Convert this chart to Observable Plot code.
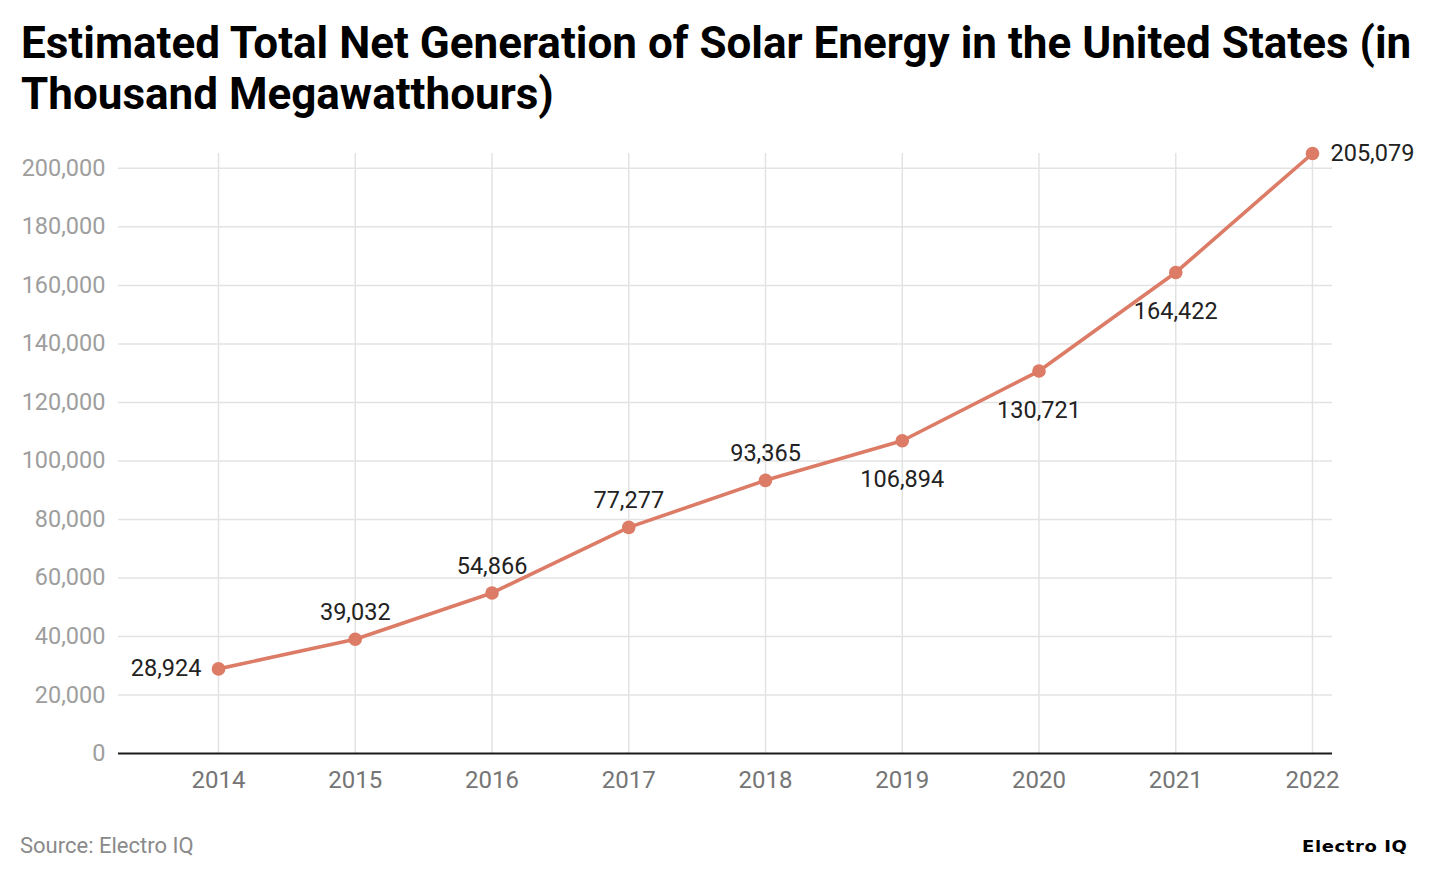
<!DOCTYPE html>
<html>
<head>
<meta charset="utf-8">
<script src="https://cdn.jsdelivr.net/npm/d3@7"></script>
<script src="https://cdn.jsdelivr.net/npm/@observablehq/plot@0.6"></script>
<style>
  html, body { margin: 0; padding: 0; background: #fff; }
  body { position: relative; width: 1436px; height: 880px; overflow: hidden; font-family: Roboto, sans-serif; }
  #title { position: absolute; left: 21px; top: 18px; width: 1410px; font-size: 44px; font-weight: 700; line-height: 51px; color: #000; }
  #chart { position: absolute; left: 0; top: 130px; }
  #source { position: absolute; left: 20px; top: 833px; font-size: 22px; color: #8a8a8a; }
  #logo { position: absolute; left: 1302px; top: 838px; font-family: "DejaVu Sans", sans-serif; font-weight: 700; font-size: 15px; color: #000; letter-spacing: 0.5px; transform: scaleX(1.2); transform-origin: left center; }
</style>
</head>
<body>
<div id="title">Estimated Total Net Generation of Solar Energy in the United States (in Thousand Megawatthours)</div>
<div id="chart"></div>
<div id="source">Source: Electro IQ</div>
<div id="logo">Electro IQ</div>
<script>
const years = [2014, 2015, 2016, 2017, 2018, 2019, 2020, 2021, 2022];
const values = [28924, 39032, 54866, 77277, 93365, 106894, 130721, 164422, 205079];
const yTicks = [0, 20000, 40000, 60000, 80000, 100000, 120000, 140000, 160000, 180000, 200000];

const data = years.map((y, i) => ({year: y, value: values[i], i}));
const fmt = d3.format(",");
const color = "#dc7b66";

const left = data.filter(d => d.i === 0);
const right = data.filter(d => d.i === data.length - 1);
const above = data.filter(d => d.i >= 1 && d.i <= 4);
const below = data.filter(d => d.i >= 5 && d.i <= 7);

const labelStyle = {x: "year", y: "value", text: d => fmt(d.value), fontSize: 23.5, fill: "#222", fontFamily: "Roboto"};

const plot = Plot.plot({
  width: 1436,
  height: 670,
  marginLeft: 118,
  marginRight: 104,
  marginTop: 23,
  marginBottom: 47,
  style: {fontFamily: "Roboto", background: "#fff"},
  x: {domain: [2014 - 100 / 136.75, 2022 + 20 / 136.75], ticks: years, tickFormat: d => String(d), tickSize: 0, tickPadding: 17, label: null},
  y: {domain: [0, 205079], ticks: yTicks, tickFormat: fmt, tickSize: 0, tickPadding: 13, label: null},
  marks: [
    Plot.ruleY(yTicks.slice(1), {stroke: "#e3e3e3", strokeWidth: 1.5}),
    Plot.ruleX(years, {stroke: "#e3e3e3", strokeWidth: 1.5}),
    Plot.axisY({ticks: yTicks, tickFormat: fmt, tickSize: 0, tickPadding: 13, fontSize: 23.5, fill: "#9e9e9e", label: null}),
    Plot.axisX({ticks: years, tickFormat: d => String(d), tickSize: 0, tickPadding: 17, fontSize: 24, fill: "#757575", label: null}),
    Plot.ruleY([0], {stroke: "#1a1a1a", strokeWidth: 2}),
    Plot.line(data, {x: "year", y: "value", stroke: color, strokeWidth: 3.6}),
    Plot.dot(data, {x: "year", y: "value", r: 6.8, fill: color, stroke: "none"}),
    Plot.text(left, {...labelStyle, textAnchor: "end", dx: -17}),
    Plot.text(right, {...labelStyle, textAnchor: "start", dx: 18}),
    Plot.text(above, {...labelStyle, dy: -27}),
    Plot.text(below, {...labelStyle, dy: 39})
  ]
});
document.getElementById("chart").appendChild(plot);
</script>
</body>
</html>
